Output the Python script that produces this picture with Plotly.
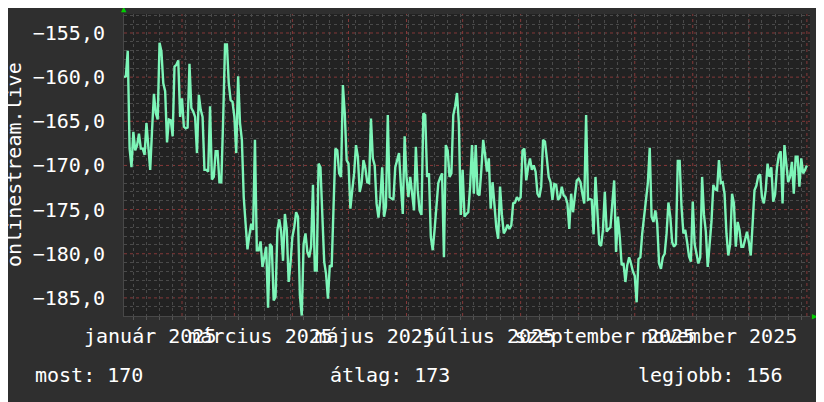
import pandas as pd
import plotly.graph_objects as go

# napi ertekek 2025-01-01-tol (onlinestream.live)
startDate = '2025-01-01'
values = [
    -160.0, -159.9, -157.0, -168.1, -170.2, -166.2, -168.3, -167.7, -166.4, -168.1,
    -168.1, -168.8, -165.2, -167.7, -170.5, -166.0, -161.9, -164.1, -164.8, -156.1,
    -157.1, -160.7, -161.6, -167.4, -164.8, -164.9, -166.7, -158.8, -158.6, -158.1,
    -164.5, -162.4, -165.6, -165.8, -165.7, -158.5, -163.5, -163.9, -164.5, -168.6,
    -162.0, -163.7, -164.5, -170.5, -170.5, -170.7, -163.3, -171.6, -171.3, -168.4,
    -168.4, -171.9, -171.9, -164.8, -156.3, -156.3, -160.7, -162.6, -162.8, -164.5,
    -168.6, -159.9, -165.2, -167.1, -173.6, -176.6, -179.5, -177.9, -176.6, -177.3,
    -167.1, -179.6, -179.6, -178.6, -181.5, -180.4, -179.2, -186.1, -178.9, -179.2,
    -185.3, -184.9, -177.3, -176.1, -177.5, -180.8, -175.5, -177.3, -183.2, -181.1,
    -178.1, -177.0, -175.3, -175.8, -184.7, -187.0, -178.9, -177.7, -179.8, -180.4,
    -179.2, -172.2, -181.9, -181.9, -169.8, -170.2, -175.8, -180.9, -182.3, -185.1,
    -181.3, -181.5, -174.7, -168.1, -168.3, -170.9, -171.3, -160.9, -164.1, -169.4,
    -169.8, -174.9, -172.8, -170.9, -167.7, -169.0, -173.0, -172.0, -169.4, -170.3,
    -171.9, -172.0, -164.7, -169.2, -170.0, -174.3, -175.9, -173.9, -170.2, -175.8,
    -174.7, -164.3, -173.6, -173.8, -173.9, -170.2, -169.4, -168.6, -172.3, -175.5,
    -166.7, -171.3, -173.6, -171.3, -173.2, -175.1, -167.9, -172.8, -175.1, -175.6,
    -164.1, -164.3, -171.3, -170.9, -178.1, -179.6, -177.3, -174.3, -172.0, -171.4,
    -170.9, -180.4, -167.7, -168.3, -171.3, -170.9, -164.3, -163.3, -161.8, -165.3,
    -175.6, -170.5, -175.8, -175.5, -175.3, -172.4, -167.7, -173.2, -167.7, -173.2,
    -173.4, -170.5, -167.1, -168.8, -170.7, -169.2, -174.9, -171.9, -174.7, -177.0,
    -178.3, -172.4, -175.6, -177.7, -177.3, -176.7, -177.2, -176.8, -174.3, -174.2,
    -173.6, -173.9, -173.6, -168.3, -168.1, -171.7, -170.2, -169.2, -170.5, -170.0,
    -170.7, -173.2, -173.6, -172.4, -167.1, -167.3, -169.2, -171.3, -171.9, -173.9,
    -172.1, -172.2, -173.9, -173.6, -172.4, -173.4, -173.6, -174.3, -177.2, -173.2,
    -175.3, -173.6, -171.7, -171.5, -171.9, -173.2, -174.3, -164.3, -173.9, -173.8,
    -173.9, -177.8, -171.3, -175.1, -178.9, -179.1, -177.3, -173.0, -177.5, -177.2,
    -177.0, -174.3, -171.7, -179.8, -175.8, -178.1, -181.3, -181.1, -183.2, -181.3,
    -180.4, -181.1, -182.0, -182.5, -185.5, -180.6, -180.4, -177.7, -176.0, -173.8,
    -172.0, -168.0, -175.8, -176.4, -175.1, -176.6, -181.1, -181.7, -180.4, -180.0,
    -177.7, -174.2, -175.8, -178.7, -179.2, -178.9, -169.5, -169.5, -174.7, -177.7,
    -177.3, -178.7, -180.3, -180.9, -174.1, -178.9, -180.2, -181.1, -180.4, -171.3,
    -175.6, -177.5, -181.5, -178.9, -176.4, -172.2, -172.7, -172.8, -169.4, -172.0,
    -171.9, -173.2, -177.7, -180.2, -178.9, -173.2, -174.3, -179.2, -176.4, -177.3,
    -179.2, -179.2, -178.2, -177.5, -178.7, -180.2, -176.6, -172.8, -172.3, -171.2,
    -171.0, -173.6, -174.3, -172.8, -169.8, -171.3, -170.2, -174.1, -173.3, -170.3,
    -168.8, -168.4, -174.3, -167.7, -169.8, -171.9, -171.3, -169.6, -173.2, -169.0,
    -169.0, -172.4, -169.2, -170.9, -170.5, -170.0,
]
labelDates = ['2025-01-15', '2025-03-15', '2025-05-15', '2025-07-15', '2025-09-15', '2025-11-15']
labelTexts = ['január 2025', 'március 2025', 'május 2025', 'július 2025',
              'szeptember 2025', 'november 2025']
yTicks = [-185, -180, -175, -170, -165, -160, -155]
summary = ['most: 170', 'átlag: 173', 'legjobb: 156']

dates = pd.date_range(startDate, periods=len(values), freq='D')
monthStarts = pd.date_range('2025-02-01', '2026-01-01', freq='MS')
yMinor = [v for v in range(-187, -152) if v % 5 != 0]

mono = 'DejaVu Sans Mono'
minorGrid = '#4a4a4a'
majorGrid = '#843838'

fig = go.Figure()
fig.add_trace(go.Scatter(x=dates, y=values, mode='lines',
                         line=dict(color='#7df5b8', width=2.4), hoverinfo='skip'))

# fo (piros) racsvonalak: honapok es 5-os ertekek (a szurke racs folott)
for m in monthStarts:
    fig.add_shape(type='line', x0=m, x1=m, y0=0, y1=1, yref='paper', layer='between',
                  line=dict(color=majorGrid, width=1, dash='dot'))
for v in yTicks:
    fig.add_shape(type='line', x0=0, x1=1, xref='paper', y0=v, y1=v, layer='between',
                  line=dict(color=majorGrid, width=1, dash='dot'))

# az oldal 8px-es margoja miatt a margok 8px-el eltolva
fig.update_layout(
    width=824, height=402,
    margin=dict(l=116, r=22, t=6, b=94),
    paper_bgcolor='#2f2f2f', plot_bgcolor='#222222',
    separators=', ',
    showlegend=False,
    font=dict(family=mono, size=20, color='#ffffff'),
    xaxis=dict(
        range=['2025-01-01', '2026-01-02 16:00'],
        tickmode='array', tickvals=labelDates, ticktext=labelTexts,
        tickangle=0, automargin=False,
        showgrid=False, zeroline=False,
        showline=True, linecolor='#484848', linewidth=1,
        ticks='', ticklabelstandoff=2,
        tickfont=dict(family=mono, size=20, color='#ffffff'),
        minor=dict(dtick=7 * 86400000, tick0='2025-01-06', showgrid=True,
                   gridcolor=minorGrid, griddash='dot', gridwidth=1,
                   ticks='outside', ticklen=3, tickcolor='#555555'),
    ),
    yaxis=dict(
        range=[-187.05, -152.85], automargin=False,
        tickmode='array', tickvals=yTicks, tickformat='.1f',
        showgrid=False, zeroline=False,
        showline=True, linecolor='#484848', linewidth=1,
        ticks='', ticklabelstandoff=14,
        tickfont=dict(family=mono, size=20, color='#ffffff'),
        minor=dict(tickmode='array', tickvals=yMinor, showgrid=True,
                   gridcolor=minorGrid, griddash='dot', gridwidth=1),
    ),
)

# fuggoleges tengelycim
fig.add_annotation(text='onlinestream.live', textangle=-90, xref='paper', yref='paper',
                   x=0, y=0.5, xshift=-110, xanchor='center', yanchor='middle',
                   showarrow=False, font=dict(family=mono, size=20, color='#ffffff'))

# osszesito sor
for txt, px in zip(summary, [-0.1327, 0.2974, 0.7464]):
    fig.add_annotation(text=txt, xref='paper', yref='paper', x=px, y=-0.195,
                       xanchor='left', yanchor='middle', showarrow=False,
                       font=dict(family=mono, size=20, color='#ffffff'))

# zold nyilak a tengelyek vegen
fig.add_annotation(text='▲', xref='paper', yref='paper', x=0, y=1, yshift=5,
                   xanchor='center', yanchor='middle', showarrow=False,
                   font=dict(family=mono, size=9, color='#00d000'))
fig.add_annotation(text='▶', xref='paper', yref='paper', x=1, y=0, xshift=5,
                   xanchor='center', yanchor='middle', showarrow=False,
                   font=dict(family=mono, size=9, color='#00d000'))

fig.write_html('out.html')
